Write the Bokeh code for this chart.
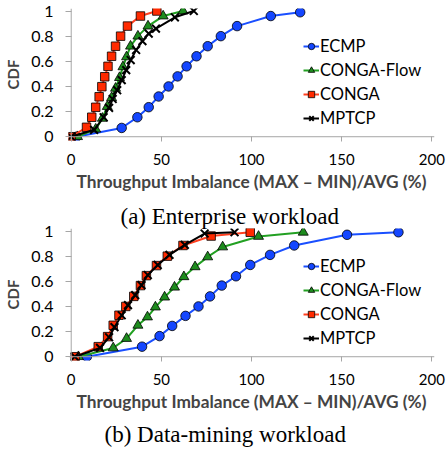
from bokeh.plotting import figure
from bokeh.models import Range1d, FixedTicker, Span, Title
from bokeh.layouts import column
from bokeh.embed import file_html
from bokeh.resources import INLINE

# ---------------- data ----------------
x_ticks = [0, 50, 100, 150, 200]
y_ticks = [0, 0.2, 0.4, 0.6, 0.8, 1.0]
series_names = ["ECMP", "CONGA-Flow", "CONGA", "MPTCP"]
captions = ["(a) Enterprise workload", "(b) Data-mining workload"]

# (a) Enterprise workload
ent_ecmp_x = [3, 28, 36.7, 43, 48.5, 54, 59, 64, 69.5, 75.7, 83, 92, 110.7, 127]
ent_ecmp_y = [0, 0.07, 0.155, 0.235, 0.32, 0.40, 0.48, 0.56, 0.64, 0.72, 0.80, 0.88, 0.96, 0.99]
ent_flow_x = [3.5, 13.6, 17.3, 20, 22.4, 24.6, 26.8, 28.7, 30.7, 32.9, 37, 42.6, 51, 62]
ent_flow_y = [0, 0.06, 0.146, 0.24, 0.31, 0.385, 0.47, 0.556, 0.635, 0.72, 0.80, 0.88, 0.96, 1.0]
ent_conga_x = [0, 8.5, 11.4, 13.6, 15.5, 17, 18.6, 20.4, 22.4, 24.6, 27.4, 31.2, 38.4, 47.5]
ent_conga_y = [0, 0.075, 0.155, 0.234, 0.318, 0.398, 0.477, 0.56, 0.64, 0.72, 0.80, 0.88, 0.96, 1.0]
ent_mptcp_x = [0, 12.7, 18, 21, 23, 25.5, 28, 30.5, 33, 36, 39.5, 43, 47, 57.5, 68]
ent_mptcp_y = [0, 0.055, 0.155, 0.23, 0.30, 0.37, 0.45, 0.53, 0.61, 0.69, 0.76, 0.82, 0.86, 0.95, 1.0]

# (b) Data-mining workload
dm_ecmp_x = [8.7, 39.3, 49, 56, 63.4, 70.6, 77, 83.5, 91.4, 99.3, 110.3, 123.7, 153, 181.5]
dm_ecmp_y = [0, 0.08, 0.164, 0.245, 0.325, 0.40, 0.48, 0.566, 0.64, 0.73, 0.81, 0.885, 0.97, 0.99]
dm_flow_x = [4, 23.3, 30.7, 37, 42.3, 46.7, 51.8, 57.3, 62.5, 68.7, 75.7, 84, 103.9, 128.7]
dm_flow_y = [0, 0.07, 0.145, 0.25, 0.316, 0.395, 0.474, 0.553, 0.636, 0.715, 0.794, 0.873, 0.957, 0.99]
dm_conga_x = [2.2, 15, 20.2, 23.3, 26.5, 30.3, 34.7, 38.4, 41.7, 47.3, 53.3, 62, 77.6, 99.3]
dm_conga_y = [0, 0.08, 0.16, 0.25, 0.33, 0.40, 0.48, 0.566, 0.645, 0.725, 0.80, 0.885, 0.96, 0.99]
dm_mptcp_x = [2, 16, 21, 24, 28, 31.5, 35.5, 39, 42.5, 48, 54.5, 63, 74, 90.6]
dm_mptcp_y = [0, 0.07, 0.155, 0.235, 0.33, 0.41, 0.49, 0.57, 0.65, 0.73, 0.81, 0.89, 0.98, 0.99]

x_title = "Throughput Imbalance (MAX \u2013 MIN)/AVG (%)"
y_title = "CDF"

SANS = "Lato"
SERIF = "Liberation Serif"
AXIS_GREY = "#A6A6A6"
CANVAS_W = 446
FRAME_W = 366
FRAME_H = 132


def make_plot(series, left_border, top_border, bottom_border, legend_loc):
    p = figure(frame_width=FRAME_W, frame_height=FRAME_H,
               output_backend="svg", toolbar_location=None,
               x_range=Range1d(-1.5, 201.5), y_range=Range1d(-0.03, 1.02),
               min_border_top=top_border, min_border_bottom=bottom_border,
               min_border_left=left_border,
               min_border_right=CANVAS_W - left_border - FRAME_W)
    p.outline_line_color = None
    p.xgrid.visible = False
    p.ygrid.visible = False

    # axis lines drawn at the data zero
    p.add_layout(Span(location=0, dimension="width", line_color=AXIS_GREY, line_width=1))
    p.add_layout(Span(location=0, dimension="height", line_color=AXIS_GREY, line_width=1))

    styles = [
        ("#1A4FFF", "#1446FF", "circle", 9.5),
        ("#22A022", "#1E8C1E", "triangle", 10),
        ("#FF4020", "#FF2A00", "square", 8.5),
        ("#000000", "#000000", "x", 11),
    ]
    for (xs, ys), name, (lc, fc, marker, size) in zip(series, series_names, styles):
        p.line(xs, ys, line_color=lc, line_width=2, legend_label=name)
        if marker == "x":
            p.scatter(xs, ys, marker="x", size=size, line_color="black", line_width=2,
                      legend_label=name)
        else:
            p.scatter(xs, ys, marker=marker, size=size, fill_color=fc, line_color="black",
                      line_width=0.8, legend_label=name)

    xa = p.xaxis[0]
    xa.ticker = FixedTicker(ticks=x_ticks)
    xa.axis_line_color = None
    xa.major_tick_line_color = AXIS_GREY
    xa.major_tick_out = 1
    xa.major_tick_in = 4
    xa.minor_tick_line_color = None
    xa.major_label_standoff = 12
    xa.major_label_text_font = SANS
    xa.major_label_text_font_size = "15px"
    xa.major_label_text_color = "black"
    xa.axis_label = x_title
    xa.axis_label_text_font = SANS
    xa.axis_label_text_font_style = "bold"
    xa.axis_label_text_font_size = "17.3px"
    xa.axis_label_standoff = 3

    ya = p.yaxis[0]
    ya.ticker = FixedTicker(ticks=y_ticks)
    ya.major_label_overrides = {0: "0", 1: "1"}
    ya.axis_line_color = None
    ya.major_tick_line_color = AXIS_GREY
    ya.major_tick_out = 3
    ya.major_tick_in = 3
    ya.minor_tick_line_color = None
    ya.major_label_standoff = 12
    ya.major_label_text_font = SANS
    ya.major_label_text_font_size = "16px"
    ya.major_label_text_color = "black"
    ya.axis_label = y_title
    ya.axis_label_text_font = SANS
    ya.axis_label_text_font_style = "bold"
    ya.axis_label_text_font_size = "15px"
    ya.axis_label_standoff = 6

    lg = p.legend[0]
    lg.location = legend_loc
    lg.margin = 0
    lg.padding = 0
    lg.spacing = 4
    lg.glyph_height = 20
    lg.glyph_width = 16
    lg.label_height = 20
    lg.label_standoff = 1
    lg.border_line_color = None
    lg.background_fill_alpha = 0
    lg.label_text_font = SANS
    lg.label_text_font_size = "16.5px"
    lg.label_text_color = "black"
    return p


def caption_title(text, offset, standoff):
    return Title(text=text, align="left", offset=offset, standoff=standoff,
                 text_font=SERIF, text_font_size="23px", text_font_style="normal",
                 text_color="black")


# upper panel
p1 = make_plot([(ent_ecmp_x, ent_ecmp_y), (ent_flow_x, ent_flow_y),
                (ent_conga_x, ent_conga_y), (ent_mptcp_x, ent_mptcp_y)],
               68, 8, 61, (235, 12.3))
# lower panel (its top strip carries the caption of the upper panel)
p2 = make_plot([(dm_ecmp_x, dm_ecmp_y), (dm_flow_x, dm_flow_y),
                (dm_conga_x, dm_conga_y), (dm_mptcp_x, dm_mptcp_y)],
               65, 0, 0, (235, 12.5))
p2.add_layout(caption_title(captions[0], 52, 0), "above")
p2.add_layout(caption_title(captions[1], 36, 10), "below")

layout = column(p1, p2, spacing=0)
open("out.html", "w").write(file_html(layout, INLINE))
